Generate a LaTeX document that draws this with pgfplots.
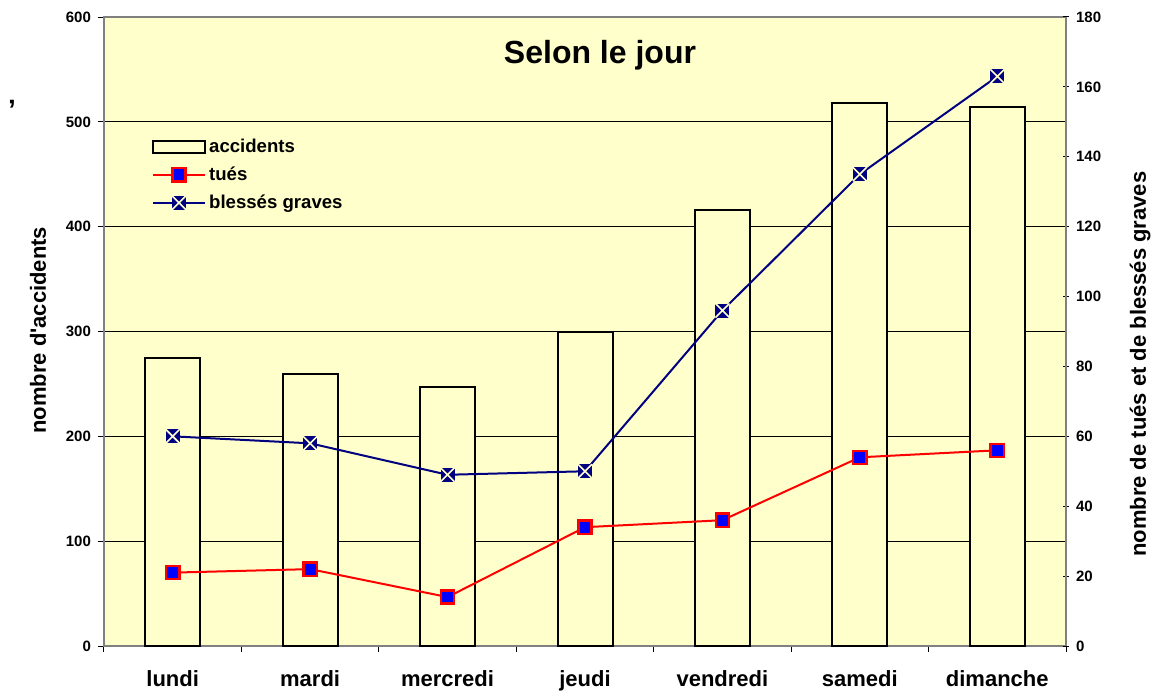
\documentclass[border=0pt]{standalone}
\usepackage{fontspec}
\setmainfont{Liberation Sans}
\usepackage{pgfplots}
\pgfplotsset{compat=1.18}
\definecolor{bgyel}{HTML}{FFFFCC}
\definecolor{navyb}{HTML}{000080}
\definecolor{frame}{HTML}{808080}
% navy square with a yellow cross, like the spreadsheet marker
\pgfdeclareplotmark{sqx}{%
  \pgfpathrectangle{\pgfqpoint{-\pgfplotmarksize}{-\pgfplotmarksize}}{\pgfqpoint{2\pgfplotmarksize}{2\pgfplotmarksize}}%
  \pgfsetfillcolor{navyb}\pgfusepath{fill}%
  \pgfsetstrokecolor{bgyel}\pgfsetlinewidth{0.8pt}%
  \pgfpathmoveto{\pgfqpoint{-\pgfplotmarksize}{-\pgfplotmarksize}}%
  \pgfpathlineto{\pgfqpoint{\pgfplotmarksize}{\pgfplotmarksize}}%
  \pgfpathmoveto{\pgfqpoint{-\pgfplotmarksize}{\pgfplotmarksize}}%
  \pgfpathlineto{\pgfqpoint{\pgfplotmarksize}{-\pgfplotmarksize}}%
  \pgfusepath{stroke}}

\pgfplotsset{
  base/.style={
    scale only axis, width=481pt, height=314.5pt,
    xmin=-0.5, xmax=6.5,
    axis line style={frame, line width=0.7pt},
    tick style={black, line width=0.5pt},
    major tick length=3pt,
    yticklabel style={font=\bfseries\fontsize{7.5}{9}\selectfont},
    /pgf/number format/assume math mode=true,
  },
}

\begin{document}
\begin{tikzpicture}
% bars, left axis
\begin{axis}[base,
  ymin=0, ymax=600,
  axis background/.style={fill=bgyel},
  ybar, bar width=27.5pt,
  xtick={-0.5,0.5,...,6.5},
  xticklabels={lundi,mardi,mercredi,jeudi,vendredi,samedi,dimanche,{}},
  xticklabel style={font=\bfseries\fontsize{11}{13}\selectfont, xshift=34.35pt, anchor=base, yshift=-17pt},
  xtick pos=bottom, tick align=outside,
  ytick={0,100,...,600}, ytick pos=left,
  ymajorgrids, grid style={black, line width=0.5pt},
  ylabel={nombre d\textquotesingle accidents},
  every axis y label/.style={at={(rel axis cs:-0.0686,0.502)}, rotate=90, anchor=center,
    font=\bfseries\fontsize{11}{13}\selectfont},
]
\addplot[draw=black, fill=bgyel, line width=1pt]
  coordinates {(0,275)(1,259)(2,247)(3,300)(4,416)(5,518)(6,514)};
\end{axis}

% lines, right axis
\begin{axis}[base,
  ymin=0, ymax=180,
  hide x axis,
  ytick={0,20,...,180}, ytick pos=right, yticklabel pos=right,
  tick align=center,
  ylabel={nombre de tués et de blessés graves},
  every axis y label/.style={at={(rel axis cs:1.077,0.448)}, rotate=90, anchor=center,
    font=\bfseries\fontsize{11}{13}\selectfont},
  legend style={draw=none, fill=none, at={(rel axis cs:0.043,0.818)}, anchor=north west,
    font=\bfseries\fontsize{9.3}{11}\selectfont, row sep=2.6pt,
    nodes={inner sep=1.5pt}},
  legend cell align=left,
  legend image code/.code={\draw[mark repeat=2, mark phase=2, #1]
    plot coordinates {(0pt,0pt) (13pt,0pt) (26pt,0pt)};},
]
\addlegendimage{legend image code/.code={\draw[black, line width=1.2pt, fill=bgyel] (0pt,-3pt) rectangle (26pt,3pt);}}
\addlegendentry{accidents}
\addplot[red, line width=1pt, mark=square*, mark size=3.3pt,
  mark options={fill=blue, draw=red, line width=1.2pt}]
  coordinates {(0,21)(1,22)(2,14)(3,34)(4,36)(5,54)(6,56)};
\addlegendentry{tués}
\addplot[navyb, line width=1pt, mark=sqx, mark size=3.5pt]
  coordinates {(0,60)(1,58)(2,49)(3,50)(4,96)(5,135)(6,163)};
\addlegendentry{blessés graves}
\node at (rel axis cs:0.5156,0.94) {\bfseries\fontsize{16}{19}\selectfont Selon le jour};
\end{axis}
\node[font=\bfseries\fontsize{14}{16}\selectfont] at (-46pt,268pt) {’};
\pgfresetboundingbox
\path[use as bounding box] (-52pt,-22pt) rectangle (528pt,323pt);
\end{tikzpicture}
\end{document}
